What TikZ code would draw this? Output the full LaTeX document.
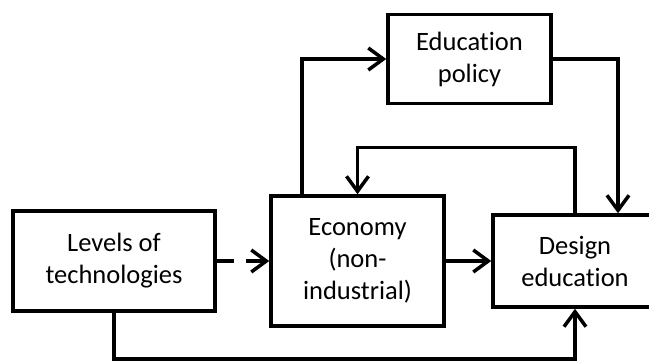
\documentclass[tikz,border=0pt]{standalone}
\usepackage{fontspec}
\setmainfont[Ligatures={NoCommon,NoRequired,NoContextual}]{Carlito}
\usetikzlibrary{arrows.meta}

\begin{document}
\begin{tikzpicture}[x=1pt,y=1pt,line width=3.5pt,
    >={Straight Barb[length=15pt,width=22pt]},
    box/.style={draw,rectangle,align=center,inner sep=0pt,
      font=\fontsize{26.5}{32}\selectfont}]
        \useasboundingbox (0,0) rectangle (649,360);

        % Boxes
        \node[box,minimum width=202,minimum height=100] (lev) at (114,99) {Levels of\\technologies};
        \node[box,minimum width=173,minimum height=130] (eco) at (357.5,99) {Economy\\(non-\\industrial)};
        \node[box,minimum width=164,minimum height=92] (des) at (575,99) {Design\\education};
        \node[box,minimum width=163,minimum height=89] (pol) at (469.5,301) {Education\\policy};

        % Arrows
        \draw[->,dash pattern=on 17pt off 12pt] (lev.east) -- (eco.west);
        \draw[->] (eco.east) -- (des.west);
        \draw[->] ([xshift=-55.5pt]eco.north) |- (pol.west);
        \draw[->] (pol.east) -| ([xshift=43pt]des.north);
        \draw[->] (des.north) -- ++(0,66) -| (eco.north);
        \draw[->] (lev.south) -- ++(0,-46) -| (des.south);
      \end{tikzpicture}
\end{document}
